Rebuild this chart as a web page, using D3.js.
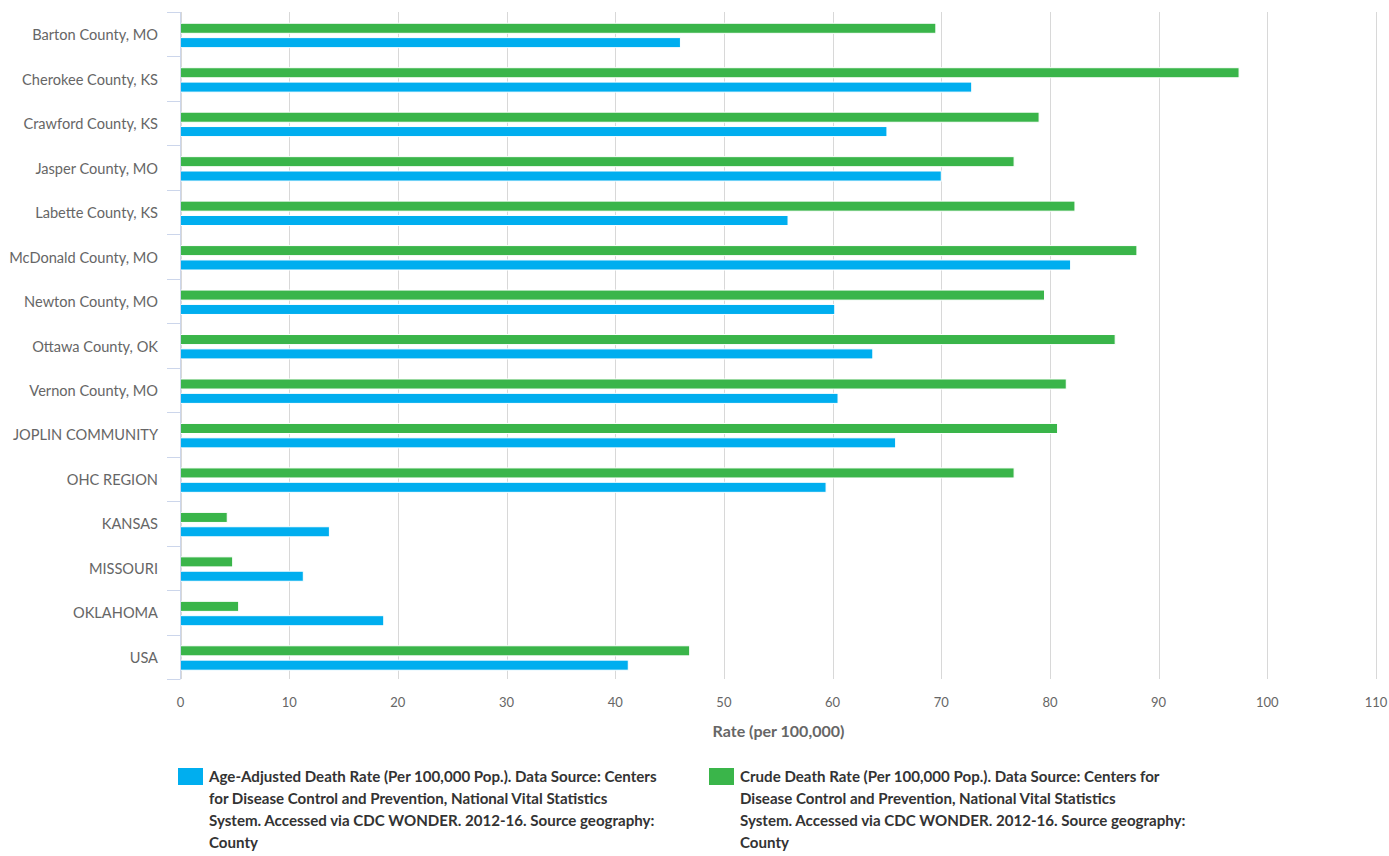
<!DOCTYPE html>
<html>
<head>
<meta charset="utf-8">
<script src="https://cdn.jsdelivr.net/npm/d3@7"></script>
<style>
  html, body { margin: 0; padding: 0; background: #fff; }
  svg { display: block; font-family: Lato, "Open Sans", sans-serif; }
</style>
</head>
<body>
<svg id="chart" width="1389" height="856"></svg>
<script>
const categories = [
  "Barton County, MO", "Cherokee County, KS", "Crawford County, KS", "Jasper County, MO",
  "Labette County, KS", "McDonald County, MO", "Newton County, MO", "Ottawa County, OK",
  "Vernon County, MO", "JOPLIN COMMUNITY", "OHC REGION", "KANSAS", "MISSOURI", "OKLAHOMA", "USA"
];
const crudeRate = [69.5, 97.4, 79.0, 76.7, 82.3, 88.0, 79.5, 86.0, 81.5, 80.7, 76.7, 4.3, 4.8, 5.35, 46.85];
const ageAdjustedRate = [46.0, 72.8, 65.0, 70.0, 55.9, 81.9, 60.2, 63.7, 60.5, 65.8, 59.4, 13.7, 11.3, 18.7, 41.2];
const xTicks = [0, 10, 20, 30, 40, 50, 60, 70, 80, 90, 100, 110];
const xTitle = "Rate (per 100,000)";
const seriesNames = ["Crude", "Age-Adjusted"];
const legendLines = {
  "Age-Adjusted": [
    "Age-Adjusted Death Rate (Per 100,000 Pop.). Data Source: Centers",
    "for Disease Control and Prevention, National Vital Statistics",
    "System. Accessed via CDC WONDER. 2012-16. Source geography:",
    "County"
  ],
  "Crude": [
    "Crude Death Rate (Per 100,000 Pop.). Data Source: Centers for",
    "Disease Control and Prevention, National Vital Statistics",
    "System. Accessed via CDC WONDER. 2012-16. Source geography:",
    "County"
  ]
};
const colors = { "Crude": "#3ab54a", "Age-Adjusted": "#00aeef" };

(function () {
const svg = d3.select("#chart");
const pLeft = 180.5, pRight = 1376, pTop = 12, pBottom = 679;

const x = d3.scaleLinear().domain([0, 110]).range([pLeft, pRight]);
const y = d3.scaleBand().domain(categories).range([pTop, pBottom]).padding(0);
const bw = y.bandwidth();
const inner = d3.scaleBand().domain(seriesNames).range([bw * 0.253, bw * 0.802]).paddingInner(0.3);

// gridlines
svg.append("g").selectAll("line").data(xTicks).join("line")
  .attr("x1", d => Math.round(x(d)) + 0.5).attr("x2", d => Math.round(x(d)) + 0.5)
  .attr("y1", pTop).attr("y2", pBottom)
  .attr("stroke", "#d8d8d8").attr("stroke-width", 1);

// bars
const rows = categories.map((c, i) => ({ c, vals: { "Crude": crudeRate[i], "Age-Adjusted": ageAdjustedRate[i] } }));
const g = svg.append("g");
rows.forEach(r => {
  seriesNames.forEach(s => {
    g.append("rect")
      .attr("x", x(0))
      .attr("y", y(r.c) + inner(s))
      .attr("width", x(r.vals[s]) - x(0))
      .attr("height", inner.bandwidth())
      .attr("fill", colors[s])
      .attr("stroke", "#fff").attr("stroke-width", 1);
  });
});

// y axis
const yAxis = svg.append("g");
yAxis.append("line").attr("x1", 180.5).attr("x2", 180.5).attr("y1", pTop).attr("y2", pBottom)
  .attr("stroke", "#ccd6eb").attr("stroke-width", 1);
const yTickPos = categories.map(c => y(c)).concat([pBottom]);
yAxis.selectAll("line.tick").data(yTickPos).join("line").attr("class", "tick")
  .attr("x1", 167).attr("x2", 180.5)
  .attr("y1", d => Math.round(d) + 0.5).attr("y2", d => Math.round(d) + 0.5)
  .attr("stroke", "#ccd6eb").attr("stroke-width", 1);
yAxis.selectAll("text").data(categories).join("text")
  .attr("x", 158).attr("y", d => y(d) + bw / 2 + 0.5)
  .attr("text-anchor", "end").attr("dominant-baseline", "central")
  .attr("fill", "#666").attr("font-size", "14.6px")
  .text(d => d);

// x axis labels
svg.append("g").selectAll("text").data(xTicks).join("text")
  .attr("x", d => x(d)).attr("y", 702)
  .attr("text-anchor", "middle").attr("dominant-baseline", "central")
  .attr("fill", "#666").attr("font-size", "13px")
  .text(d => d);

svg.append("text")
  .attr("x", 778.5).attr("y", 730)
  .attr("text-anchor", "middle").attr("dominant-baseline", "central")
  .attr("fill", "#666").attr("font-size", "16px").attr("font-weight", "bold")
  .text(xTitle);

// legend
const legendItems = [
  { name: "Age-Adjusted", sx: 178, tx: 209 },
  { name: "Crude", sx: 709, tx: 740 }
];
const lg = svg.append("g");
legendItems.forEach(item => {
  lg.append("rect").attr("x", item.sx).attr("y", 768).attr("width", 25).attr("height", 17)
    .attr("fill", colors[item.name]);
  const t = lg.append("text").attr("fill", "#333").attr("font-size", "15.1px").attr("font-weight", "bold");
  legendLines[item.name].forEach((line, i) => {
    t.append("tspan").attr("x", item.tx).attr("y", 782 + i * 22).text(line);
  });
});
})();
</script>
</body>
</html>
